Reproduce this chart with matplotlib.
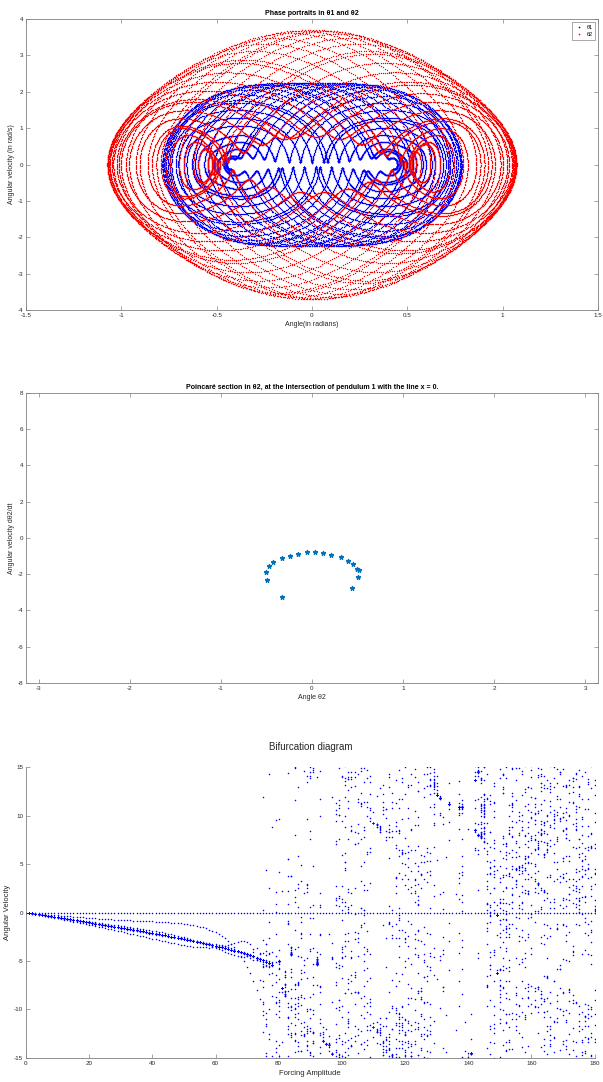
import numpy as np
import matplotlib
matplotlib.use("Agg")
import matplotlib.pyplot as plt

# double pendulum (equal masses and rods), released from rest
theta1_0 = np.pi/4
theta2_0 = np.pi/6
g = 9.81
L = 1.0
m1 = 1.0
m2 = 1.0
t_end = 60.0
dt = 0.004

# Poincaré section points (theta2, dtheta2/dt) where pendulum 1 crosses x = 0
sec_theta2 = [-0.509, -0.493, -0.472, -0.425, -0.324, -0.240, -0.156, -0.051, 0.038,
              0.122, 0.206, 0.320, 0.392, 0.455, 0.497, 0.514, 0.509, 0.442, -0.324]
sec_omega2 = [-1.87, -2.33, -1.56, -1.34, -1.12, -0.99, -0.88, -0.77, -0.77,
              -0.81, -0.92, -1.06, -1.25, -1.45, -1.72, -1.78, -2.17, -2.77, -3.23]

# driven damped pendulum used for the bifurcation sweep
forcing = np.arange(0, 181, 1.0)
w0sq = 165.0
q_factor = 6.0
drive_ratio = 2/3
drive_sign = -1.0
first_period = 1
n_periods = 40
sample_phase = 0.94

blue = (0, 0, 1)
red = (1, 0, 0)
matlab_blue = (0, 0.447, 0.741)
txt = (0.15, 0.15, 0.15)


def dp_rhs(s):
    t1, t2, w1, w2 = s
    d = t1 - t2
    den = 2*m1 + m2 - m2*np.cos(2*t1 - 2*t2)
    a1 = (-g*(2*m1 + m2)*np.sin(t1) - m2*g*np.sin(t1 - 2*t2)
          - 2*np.sin(d)*m2*(w2**2*L + w1**2*L*np.cos(d))) / (L*den)
    a2 = (2*np.sin(d)*(w1**2*L*(m1 + m2) + g*(m1 + m2)*np.cos(t1)
          + w2**2*L*m2*np.cos(d))) / (L*den)
    return np.array([w1, w2, a1, a2])


def double_pendulum():
    s = np.array([theta1_0, theta2_0, 0.0, 0.0])
    n = int(t_end/dt)
    out = np.empty((n, 4))
    for i in range(n):
        out[i] = s
        k1 = dp_rhs(s)
        k2 = dp_rhs(s + dt/2*k1)
        k3 = dp_rhs(s + dt/2*k2)
        k4 = dp_rhs(s + dt*k3)
        s = s + dt/6*(k1 + 2*k2 + 2*k3 + k4)
    return out


def bifurcation(spp=80):
    w0 = np.sqrt(w0sq)
    wd = drive_ratio*w0
    gam = w0/q_factor
    h = 2*np.pi/wd/spp
    th = np.zeros_like(forcing)
    v = np.zeros_like(forcing)
    # the state at rest is kept as the first sample
    xs, ys = [forcing.copy()], [v.copy()]

    def acc(th, v, t):
        return -gam*v - w0sq*np.sin(th) + drive_sign*forcing*np.cos(wd*t)

    marks = set(int(round((k + sample_phase)*spp)) for k in range(first_period, n_periods))
    t = 0.0
    for i in range(n_periods*spp + 2*spp):
        if i in marks:
            xs.append(forcing.copy())
            ys.append(v.copy())
        k1t, k1v = v, acc(th, v, t)
        k2t, k2v = v + h/2*k1v, acc(th + h/2*k1t, v + h/2*k1v, t + h/2)
        k3t, k3v = v + h/2*k2v, acc(th + h/2*k2t, v + h/2*k2v, t + h/2)
        k4t, k4v = v + h*k3v, acc(th + h*k3t, v + h*k3v, t + h)
        th = th + h/6*(k1t + 2*k2t + 2*k3t + k4t)
        v = v + h/6*(k1v + 2*k2v + 2*k3v + k4v)
        t += h
    return np.concatenate(xs), np.concatenate(ys)


def matlab_axes(ax, box=True):
    for side in ['left', 'bottom', 'top', 'right']:
        ax.spines[side].set_color((0.5, 0.5, 0.5))
        ax.spines[side].set_linewidth(0.6)
    if not box:
        ax.spines['top'].set_visible(False)
        ax.spines['right'].set_visible(False)
    ax.tick_params(direction='in', length=3, width=0.5, labelsize=4.5,
                   colors=(0.5, 0.5, 0.5), labelcolor=txt, pad=2,
                   top=box, right=box)


plt.rcParams['font.family'] = ['Liberation Sans', 'DejaVu Sans']
plt.rcParams['axes.unicode_minus'] = False
fig = plt.figure(figsize=(6.03, 10.82), dpi=100)

# phase portraits
traj = double_pendulum()
ax1 = fig.add_axes([0.0431, 0.7135, 0.9486, 0.2689])
ax1.plot(traj[:, 0], traj[:, 2], '.', color=blue, ms=2.0, mew=0, label='θ1')
ax1.plot(traj[:, 1], traj[:, 3], '.', color=red, ms=2.0, mew=0, label='θ2')
ax1.set_xlim(-1.5, 1.5)
ax1.set_ylim(-4, 4)
ax1.set_xticks(np.arange(-1.5, 1.51, 0.5))
ax1.set_xticklabels(['-1.5', '-1', '-0.5', '0', '0.5', '1', '1.5'])
ax1.set_yticks(np.arange(-4, 5, 1))
matlab_axes(ax1)
ax1.set_title('Phase portraits in θ1 and θ2', fontsize=5, fontweight='bold', color='black', pad=3)
ax1.set_xlabel('Angle(in radians)', fontsize=5, color=txt, labelpad=2)
ax1.set_ylabel('Angular velocity (in rad/s)', fontsize=5, color=txt, labelpad=2)
leg = ax1.legend(loc='upper right', fontsize=4, markerscale=1.2, handlelength=1.2,
                 frameon=True, fancybox=False, borderpad=0.5, labelspacing=0.4)
leg.get_frame().set_edgecolor((0.5, 0.5, 0.5))
leg.get_frame().set_linewidth(0.6)

# Poincaré section
ax2 = fig.add_axes([0.0431, 0.3688, 0.9486, 0.2680])
ax2.plot(sec_theta2, sec_omega2, '*', color=matlab_blue, ms=3.5, mew=0.8)
ax2.set_xlim(-np.pi, np.pi)
ax2.set_ylim(-8, 8)
ax2.set_xticks(np.arange(-3, 4, 1))
ax2.set_yticks(np.arange(-8, 9, 2))
matlab_axes(ax2)
ax2.set_title('Poincaré section in θ2, at the intersection of pendulum 1 with the line x = 0.',
              fontsize=5, fontweight='bold', color='black', pad=3)
ax2.set_xlabel('Angle θ2', fontsize=5, color=txt, labelpad=2)
ax2.set_ylabel('Angular velocity dθ2/dt', fontsize=5, color=txt, labelpad=2)

# bifurcation diagram
bx, by = bifurcation()
ax3 = fig.add_axes([0.0431, 0.0222, 0.9430, 0.2689])
ax3.plot(bx, by, '.', color=blue, ms=2.2, mew=0)
ax3.set_xlim(0, 180)
ax3.set_ylim(-15, 15)
ax3.set_xticks(np.arange(0, 181, 20))
ax3.set_yticks(np.arange(-15, 16, 5))
matlab_axes(ax3, box=False)
ax3.set_title('Bifurcation diagram', fontsize=7, color=txt, pad=12)
ax3.set_xlabel('Forcing Amplitude', fontsize=5.5, color=txt, labelpad=3)
ax3.set_ylabel('Angular Velocity', fontsize=5.5, color=txt, labelpad=2)

fig.savefig('out.png', dpi=100)
